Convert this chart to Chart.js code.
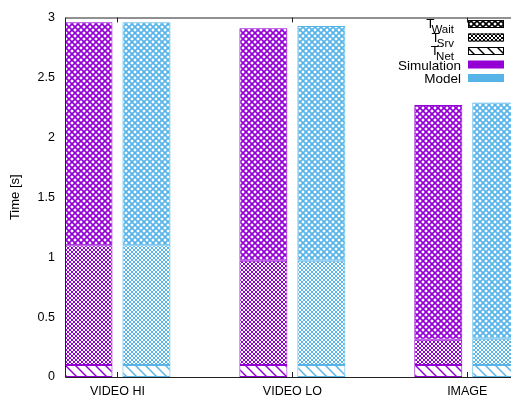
<!DOCTYPE html>
<html>
<head>
<meta charset="utf-8">
<script src="https://cdn.jsdelivr.net/npm/chart.js@4/dist/chart.umd.min.js"></script>
<style>
  html, body { margin: 0; padding: 0; background: #fff; }
  #wrap { width: 511px; height: 400px; }
</style>
</head>
<body>
<div id="wrap"><canvas id="chart" width="511" height="400"></canvas></div>
<script>
// Datos del gráfico
const categories = ['VIDEO HI', 'VIDEO LO', 'IMAGE'];
const yTicks = [0, 0.5, 1, 1.5, 2, 2.5, 3];

// Tiempos acumulados (límite superior de cada tramo)
const simNet   = [0.10, 0.10, 0.10];
const simSrv   = [1.10, 0.97, 0.31];
const simTotal = [2.96, 2.91, 2.27];

const modelNet   = [0.10, 0.10, 0.10];
const modelSrv   = [1.10, 0.97, 0.32];
const modelTotal = [2.96, 2.93, 2.29];

const legendLabels = [['T', 'Wait'], ['T', 'Srv'], ['T', 'Net'], ['Simulation'], ['Model']];

const simColor = '#9400D3';
const modelColor = '#56B4E9';
const fontFamily = '"Liberation Sans", Arial, sans-serif';

// Patrones de relleno estilo gnuplot
function makePattern(color, kind) {
    const size = kind === 'wait' ? 6 : kind === 'srv' ? 4 : 10;
    const c = document.createElement('canvas');
    c.width = size;
    c.height = size;
    const g = c.getContext('2d');
    g.fillStyle = '#fff';
    g.fillRect(0, 0, size, size);
    g.strokeStyle = color;
    g.lineWidth = kind === 'wait' ? 1.7 : kind === 'srv' ? 1 : 1.4;
    for (const off of [-size, 0, size]) {
        g.beginPath();
        g.moveTo(off - 1, -1);
        g.lineTo(off + size + 1, size + 1);
        if (kind !== 'net') {
            g.moveTo(off + size + 1, -1);
            g.lineTo(off - 1, size + 1);
        }
        g.stroke();
    }
    return g.createPattern(c, 'repeat');
}

const ctx = document.getElementById('chart').getContext('2d');

function diff(top, base) {
    return top.map((v, i) => +(v - base[i]).toFixed(3));
}

function points(values) {
    return values.map((v, i) => ({ x: i, y: v }));
}

function segment(label, values, color, kind, stack) {
    return {
        label: label,
        data: points(values),
        stack: stack,
        backgroundColor: makePattern(color, kind),
        borderColor: color,
        borderWidth: 1,
        borderSkipped: false
    };
}

const datasets = [
    segment('Sim Net', simNet, simColor, 'net', 'sim'),
    segment('Sim Srv', diff(simSrv, simNet), simColor, 'srv', 'sim'),
    segment('Sim Wait', diff(simTotal, simSrv), simColor, 'wait', 'sim'),
    segment('Model Net', modelNet, modelColor, 'net', 'model'),
    segment('Model Srv', diff(modelSrv, modelNet), modelColor, 'srv', 'model'),
    segment('Model Wait', diff(modelTotal, modelSrv), modelColor, 'wait', 'model')
];

// Marco, marcas internas y leyenda
const framePlugin = {
    id: 'frame',
    afterDatasetsDraw(chart) {
        const { ctx: g, chartArea: a, scales } = chart;
        g.save();
        g.strokeStyle = '#222';
        g.lineWidth = 1;
        g.beginPath();
        g.moveTo(a.left + 0.5, a.top + 0.5);
        g.lineTo(a.right, a.top + 0.5);
        g.moveTo(a.left + 0.5, a.top);
        g.lineTo(a.left + 0.5, a.bottom + 0.5);
        g.lineTo(a.right, a.bottom + 0.5);
        for (let i = 0; i < categories.length; i++) {
            const x = Math.round(scales.x.getPixelForValue(i)) + 0.5;
            g.moveTo(x, a.bottom);
            g.lineTo(x, a.bottom - 5);
            g.moveTo(x, a.top);
            g.lineTo(x, a.top + 5);
        }
        g.stroke();

        // Leyenda
        const rowH = 13.5;
        const y0 = 24;
        const textRight = 461;
        const boxX = 468, boxW = 36, boxH = 8;
        const kinds = ['wait', 'srv', 'net'];
        g.textBaseline = 'alphabetic';
        legendLabels.forEach((lab, i) => {
            const yc = y0 + i * rowH;
            if (i < 3) {
                g.fillStyle = makePattern('#000', kinds[i]);
                g.fillRect(boxX, yc - boxH / 2, boxW, boxH);
                g.strokeStyle = '#000';
                g.strokeRect(boxX + 0.5, yc - boxH / 2 + 0.5, boxW - 1, boxH - 1);
            } else {
                g.fillStyle = i === 3 ? simColor : modelColor;
                g.fillRect(boxX, yc - boxH / 2, boxW, boxH);
            }
            g.fillStyle = '#000';
            g.textAlign = 'right';
            if (lab.length === 2) {
                g.font = '11.5px ' + fontFamily;
                const subW = g.measureText(lab[1]).width;
                const right = textRight - 7;
                g.fillText(lab[1], right, yc + 9);
                g.font = '13.5px ' + fontFamily;
                g.fillText(lab[0], right - subW + 3, yc + 4);
            } else {
                g.font = '13.5px ' + fontFamily;
                g.fillText(lab[0], textRight, yc + 5);
            }
        });
        g.restore();
    }
};

new Chart(ctx, {
    type: 'bar',
    data: { datasets: datasets },
    options: {
        responsive: false,
        animation: false,
        layout: { padding: { top: 14, right: 0, bottom: 0, left: 0 } },
        categoryPercentage: 0.663,
        barPercentage: 0.828,
        plugins: {
            legend: { display: false },
            tooltip: { enabled: false }
        },
        scales: {
            x: {
                type: 'linear',
                min: -0.3,
                max: 2.25,
                offset: false,
                stacked: true,
                grid: { display: false, drawTicks: false, offset: false },
                border: { display: false },
                afterBuildTicks: (scale) => {
                    scale.ticks = categories.map((c, i) => ({ value: i }));
                },
                afterFit: (scale) => { scale.height = 23; },
                ticks: {
                    padding: 7,
                    color: '#000',
                    font: { family: fontFamily, size: 12.5 },
                    maxRotation: 0,
                    autoSkip: false,
                    callback: (value) => categories[value]
                }
            },
            y: {
                min: 0,
                max: 3,
                stacked: true,
                grid: { display: false, drawTicks: false },
                border: { display: false },
                afterBuildTicks: (scale) => {
                    scale.ticks = yTicks.map(v => ({ value: v }));
                },
                afterFit: (scale) => { scale.width = 65; },
                ticks: {
                    padding: 10,
                    color: '#000',
                    font: { family: fontFamily, size: 12.5 },
                    callback: (value) => String(value)
                },
                title: {
                    display: true,
                    text: 'Time [s]',
                    color: '#000',
                    font: { family: fontFamily, size: 13 },
                    padding: { top: 8, bottom: 0 }
                }
            }
        }
    },
    plugins: [framePlugin]
});
</script>
</body>
</html>
